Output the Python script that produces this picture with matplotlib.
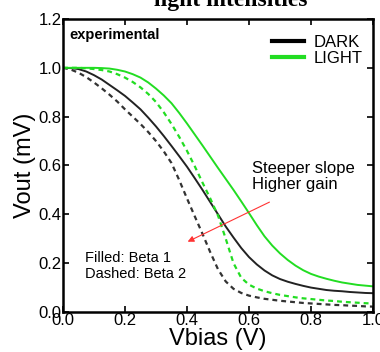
import numpy as np
import matplotlib.pyplot as plt

plt.rcParams['font.family'] = ['Liberation Sans', 'DejaVu Sans']

vbias = [i * 0.025 for i in range(41)]
dark_beta1 = [1.0, 0.999, 0.995, 0.985, 0.970, 0.952, 0.930, 0.908, 0.885, 0.858,
              0.830, 0.796, 0.760, 0.721, 0.680, 0.638, 0.595, 0.548, 0.500, 0.450,
              0.400, 0.350, 0.305, 0.262, 0.225, 0.195, 0.170, 0.150, 0.135, 0.124,
              0.115, 0.107, 0.100, 0.095, 0.090, 0.087, 0.085, 0.082, 0.080, 0.078,
              0.077]
light_beta1 = [1.0, 1.0, 1.0, 1.0, 1.0, 0.999, 0.997, 0.992, 0.985, 0.974,
               0.960, 0.940, 0.915, 0.887, 0.855, 0.815, 0.772, 0.727, 0.682, 0.636,
               0.590, 0.545, 0.500, 0.453, 0.405, 0.356, 0.310, 0.272, 0.240, 0.213,
               0.190, 0.171, 0.156, 0.145, 0.136, 0.128, 0.121, 0.116, 0.111, 0.108,
               0.105]
dark_beta2 = [1.0, 0.993, 0.980, 0.962, 0.940, 0.916, 0.890, 0.862, 0.830, 0.800,
              0.770, 0.737, 0.700, 0.658, 0.610, 0.540, 0.465, 0.392, 0.320, 0.245,
              0.175, 0.125, 0.095, 0.078, 0.067, 0.060, 0.054, 0.050, 0.046, 0.043,
              0.040, 0.037, 0.035, 0.033, 0.031, 0.029, 0.028, 0.026, 0.025, 0.023,
              0.022]
light_beta2 = [1.0, 1.0, 1.0, 0.998, 0.995, 0.991, 0.985, 0.974, 0.960, 0.942,
               0.920, 0.893, 0.860, 0.818, 0.770, 0.717, 0.660, 0.597, 0.530, 0.465,
               0.395, 0.300, 0.200, 0.140, 0.112, 0.096, 0.085, 0.077, 0.070, 0.065,
               0.060, 0.056, 0.053, 0.050, 0.047, 0.045, 0.042, 0.040, 0.038, 0.036,
               0.035]

green = '#22dd22'
fig = plt.figure(figsize=(3.8, 3.52), dpi=100)
ax = fig.add_axes([63/380, 40/352, 310/380, 293/352])

ax.plot(vbias, dark_beta1, color='#222222', lw=1.4)
ax.plot(vbias, light_beta1, color=green, lw=1.4)
ax.plot(vbias, dark_beta2, color='#333333', lw=1.6, ls=(0, (2.2, 1.8)))
ax.plot(vbias, light_beta2, color=green, lw=1.6, ls=(0, (2.2, 1.8)))

# legend handles
ax.plot([], [], color='black', lw=3, label='DARK')
ax.plot([], [], color=green, lw=3, label='LIGHT')
h, l = ax.get_legend_handles_labels()
ax.legend(h, l, loc='upper right', frameon=False, fontsize=12, handlelength=1.9,
          borderaxespad=0.2, labelspacing=0.05, handletextpad=0.6, bbox_to_anchor=(1.0, 0.98))

ax.annotate('', xy=(0.394, 0.283), xytext=(0.674, 0.455),
            arrowprops=dict(arrowstyle='-|>', color='#ff3333', lw=0.8, mutation_scale=9))
ax.text(0.61, 0.62, 'Steeper slope\nHigher gain', fontsize=12, va='top', linespacing=1.15)
ax.text(0.07, 0.25, 'Filled: Beta 1\nDashed: Beta 2', fontsize=10.5, va='top', linespacing=1.2)
ax.text(0.02, 1.165, 'experimental', fontsize=10.5, fontweight='bold', va='top')

ax.set_xlim(0, 1.0)
ax.set_ylim(0, 1.2)
ax.set_xticks(np.arange(0, 1.01, 0.2))
ax.set_yticks(np.arange(0, 1.21, 0.2))
ax.set_xticklabels(['0.0', '0.2', '0.4', '0.6', '0.8', '1.0'])
ax.set_yticklabels(['0.0', '0.2', '0.4', '0.6', '0.8', '1.0', '1.2'])
ax.tick_params(direction='in', top=True, right=True, length=4, width=1.2,
               labelsize=12, pad=1)
for s in ax.spines.values():
    s.set_linewidth(1.8)
ax.set_xlabel('Vbias (V)', fontsize=17, labelpad=0)
ax.set_ylabel('Vout (mV)', fontsize=17, labelpad=2)

fig.text(231/380, 1 - 6/352, 'light intensities', ha='center', va='baseline',
         fontsize=17, fontweight='bold', family='Liberation Serif')

fig.savefig('out.png', dpi=100)
